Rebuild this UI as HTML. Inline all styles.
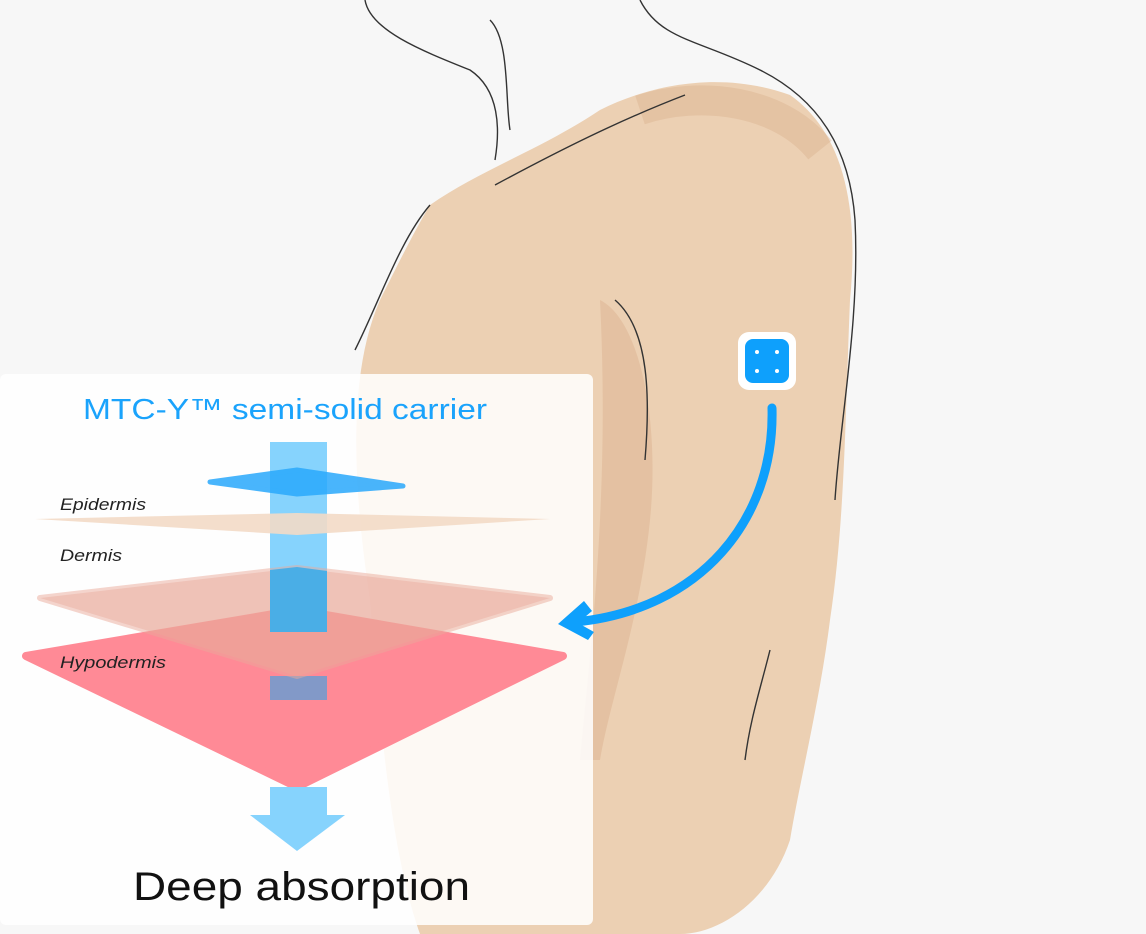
<!DOCTYPE html>
<html><head><style>
html,body{margin:0;padding:0;background:#f7f7f7;}
svg{display:block}
text{font-family:"Liberation Sans",sans-serif}
</style></head><body>
<svg width="1146" height="934" viewBox="0 0 1146 934">
<rect width="1146" height="934" fill="#f7f7f7"/>
<path d="M430,205 C480,170 540,150 600,110 C650,85 720,70 790,95 C840,130 860,200 850,300 C845,420 845,520 830,620 C820,700 800,780 790,840 C770,900 720,934 680,934 L420,934 C390,850 380,720 370,600 C355,500 345,380 380,300 C400,260 415,230 430,205 Z" fill="#ecd0b3"/>
<path d="M600,300 C640,320 660,420 650,520 C640,620 610,700 600,760 L580,760 C590,650 610,500 600,300Z" fill="#dfb896" opacity="0.6"/>
<path d="M640,110 C700,90 780,100 820,150" stroke="#d9b08c" stroke-width="30" fill="none" opacity="0.4"/>
<g fill="none" stroke="#333" stroke-width="1.4">
<path d="M365,0 C370,30 420,50 470,70 C500,90 500,130 495,160"/>
<path d="M490,20 C510,40 505,100 510,130"/>
<path d="M640,0 C660,40 700,40 760,70 C820,100 850,150 855,220 C860,320 840,420 835,500"/>
<path d="M430,205 C400,240 380,300 355,350"/>
<path d="M495,185 C560,150 620,120 685,95"/>
<path d="M615,300 C650,330 650,400 645,460"/>
<path d="M770,650 C760,690 750,720 745,760"/>
</g>
<rect x="0" y="374" width="593" height="551" rx="6" fill="#ffffff" opacity="0.86"/>
<text x="285" y="419" font-size="29" fill="#1aa3fc" text-anchor="middle" textLength="404" lengthAdjust="spacingAndGlyphs">MTC-Y™ semi-solid carrier</text>
<polygon points="26,656 297,610 563,656 297,787" fill="#ff8a96" stroke="#ff8a96" stroke-width="8" stroke-linejoin="round"/>
<rect x="270" y="442" width="57" height="190" fill="#86d3fd"/>
<rect x="270" y="676" width="57" height="24" fill="#8299c8"/>
<rect x="270" y="787" width="57" height="30" fill="#86d3fd"/>
<polygon points="250,815 345,815 297,851" fill="#86d3fd"/>
<polygon points="40,598 297,568 550,598 297,676" fill="#eaa99a" opacity="0.7" stroke="#eaa99a" stroke-width="6" stroke-linejoin="round" stroke-opacity="0.7"/>
<polygon points="270,570 297,567 327,571 327,632 270,632" fill="#4aaee6"/>
<polygon points="35,519 297,513 550,519 297,535" fill="#f3dac6" opacity="0.9"/>
<polygon points="210,482 297,470 403,486 297,494" fill="#2aa9fc" opacity="0.85" stroke="#2aa9fc" stroke-width="5" stroke-linejoin="round"/>
<text x="60" y="510" font-size="17" font-style="italic" fill="#222" textLength="86" lengthAdjust="spacingAndGlyphs">Epidermis</text>
<text x="60" y="561" font-size="17" font-style="italic" fill="#222" textLength="62" lengthAdjust="spacingAndGlyphs">Dermis</text>
<text x="60" y="668" font-size="17" font-style="italic" fill="#222" textLength="106" lengthAdjust="spacingAndGlyphs">Hypodermis</text>
<text x="133" y="900" font-size="40" fill="#111" textLength="337" lengthAdjust="spacingAndGlyphs">Deep absorption</text>
<path d="M772,408 C775,520 700,610 575,622" stroke="#0ea0fc" stroke-width="9" fill="none" stroke-linecap="round"/>
<polygon points="584,601 592,611 578,623 594,632 588,640 558,624" fill="#0ea0fc"/>
<rect x="738" y="332" width="58" height="58" rx="11" fill="#fff"/>
<rect x="745" y="339" width="44" height="44" rx="8" fill="#0ea0fc"/>
<g fill="#fff"><circle cx="757" cy="352" r="2"/><circle cx="777" cy="352" r="2"/><circle cx="757" cy="371" r="2"/><circle cx="777" cy="371" r="2"/></g>
</svg>
</body></html>
